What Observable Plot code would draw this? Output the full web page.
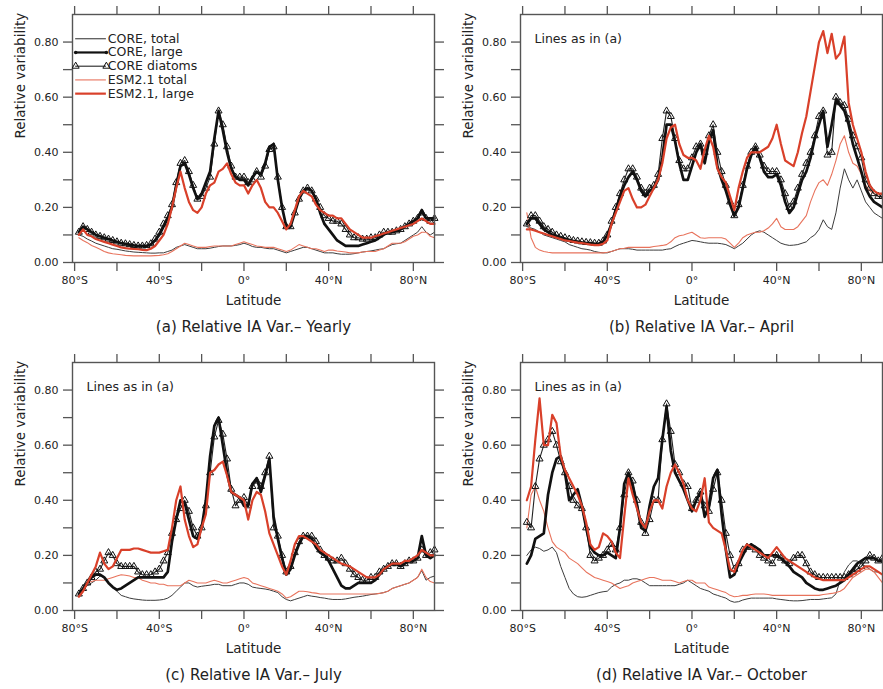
<!DOCTYPE html>
<html><head><meta charset="utf-8">
<script src="https://cdn.jsdelivr.net/npm/d3@7"></script>
<script src="https://cdn.jsdelivr.net/npm/@observablehq/plot@0.6"></script>
<style>
html,body{margin:0;padding:0;background:#fff;overflow:hidden}
#wrap{position:relative;width:883px;height:689px;background:#fff;overflow:hidden}
.panel{position:absolute;width:441px;height:340px}
.panel svg{max-width:none !important;width:441px;height:340px}
</style></head><body><div id="wrap"></div>
<script>
// Latitude grid (degrees, negative = south)
const lat = [
-78,-76,-74,-72,-70,-68,-66,-64,-62,-60,
-58,-56,-54,-52,-50,-48,-46,-44,-42,-40,
-38,-36,-34,-32,-30,-28,-26,-24,-22,-20,
-18,-16,-14,-12,-10,-8,-6,-4,-2,0,
2,4,6,8,10,12,14,16,18,20,
22,24,26,28,30,32,34,36,38,40,
42,44,46,48,50,52,54,56,58,60,
62,64,66,68,70,72,74,76,78,80,
82,84,86,88,90];

// ---- (a) Yearly ----
const aCoreTotal = [
0.10,0.095,0.085,0.078,0.07,0.065,0.06,0.055,0.05,0.048,
0.045,0.042,0.04,0.038,0.037,0.036,0.035,0.034,0.034,0.035,
0.035,0.04,0.045,0.055,0.06,0.065,0.06,0.055,0.05,0.05,
0.05,0.052,0.055,0.058,0.06,0.06,0.06,0.062,0.065,0.07,
0.065,0.058,0.055,0.055,0.052,0.05,0.05,0.045,0.04,0.035,
0.04,0.045,0.05,0.055,0.055,0.05,0.045,0.04,0.035,0.035,
0.035,0.032,0.03,0.03,0.03,0.032,0.035,0.038,0.04,0.042,
0.045,0.048,0.05,0.058,0.065,0.068,0.07,0.08,0.09,0.1,
0.11,0.13,0.11,0.1,0.11];
const aCoreLarge = [
0.11,0.13,0.12,0.11,0.10,0.095,0.09,0.085,0.08,0.075,
0.07,0.068,0.065,0.062,0.06,0.06,0.06,0.065,0.08,0.1,
0.13,0.16,0.2,0.28,0.35,0.36,0.32,0.27,0.23,0.25,
0.29,0.33,0.45,0.55,0.48,0.4,0.34,0.31,0.3,0.3,
0.28,0.31,0.33,0.32,0.36,0.42,0.43,0.3,0.2,0.13,
0.13,0.18,0.23,0.26,0.27,0.26,0.23,0.18,0.14,0.12,
0.1,0.08,0.07,0.06,0.06,0.06,0.06,0.065,0.07,0.075,
0.08,0.09,0.1,0.11,0.11,0.115,0.12,0.13,0.14,0.15,
0.16,0.19,0.16,0.16,0.16];
const aDiatoms = [
0.11,0.13,0.12,0.11,0.10,0.095,0.09,0.085,0.08,0.075,
0.07,0.068,0.065,0.062,0.06,0.06,0.062,0.068,0.085,0.11,
0.14,0.17,0.21,0.29,0.36,0.37,0.33,0.28,0.23,0.24,
0.27,0.31,0.43,0.55,0.5,0.42,0.35,0.31,0.31,0.31,
0.29,0.3,0.33,0.31,0.35,0.41,0.42,0.31,0.2,0.13,
0.13,0.18,0.23,0.26,0.27,0.26,0.23,0.2,0.17,0.16,
0.15,0.15,0.14,0.12,0.1,0.09,0.09,0.085,0.085,0.09,
0.09,0.1,0.11,0.11,0.11,0.115,0.12,0.13,0.14,0.15,
0.16,0.18,0.16,0.15,0.16];
const aEsmTotal = [
0.09,0.08,0.072,0.062,0.055,0.048,0.04,0.035,0.032,0.03,
0.028,0.026,0.025,0.024,0.024,0.024,0.024,0.024,0.025,0.026,
0.028,0.032,0.04,0.05,0.06,0.07,0.065,0.06,0.055,0.055,
0.055,0.058,0.06,0.06,0.06,0.06,0.06,0.065,0.07,0.075,
0.07,0.065,0.06,0.058,0.055,0.055,0.055,0.05,0.045,0.04,
0.045,0.055,0.065,0.06,0.055,0.05,0.05,0.045,0.04,0.045,
0.045,0.042,0.04,0.038,0.035,0.035,0.035,0.038,0.04,0.04,
0.04,0.045,0.05,0.06,0.07,0.07,0.07,0.075,0.085,0.095,
0.1,0.11,0.11,0.095,0.09];
const aEsmLarge = [
0.1,0.12,0.1,0.095,0.085,0.08,0.075,0.07,0.065,0.06,
0.055,0.052,0.05,0.049,0.048,0.046,0.045,0.05,0.06,0.08,
0.1,0.14,0.2,0.27,0.33,0.27,0.22,0.19,0.18,0.2,
0.25,0.28,0.29,0.33,0.34,0.36,0.32,0.29,0.28,0.28,
0.25,0.28,0.3,0.27,0.22,0.2,0.2,0.18,0.15,0.12,
0.14,0.19,0.24,0.26,0.25,0.24,0.21,0.19,0.18,0.17,
0.17,0.16,0.16,0.14,0.12,0.11,0.1,0.09,0.09,0.09,
0.095,0.1,0.105,0.11,0.115,0.12,0.125,0.13,0.135,0.14,
0.15,0.16,0.15,0.14,0.14];

// ---- (b) April ----
const bCoreTotal = [
0.13,0.125,0.12,0.11,0.1,0.095,0.09,0.085,0.08,0.075,
0.065,0.06,0.055,0.05,0.048,0.045,0.04,0.037,0.035,0.035,
0.04,0.045,0.05,0.05,0.05,0.048,0.045,0.045,0.045,0.045,
0.045,0.045,0.045,0.048,0.05,0.058,0.065,0.07,0.075,0.08,
0.078,0.075,0.072,0.07,0.07,0.07,0.068,0.065,0.058,0.05,
0.06,0.07,0.085,0.1,0.11,0.115,0.11,0.1,0.09,0.08,
0.07,0.065,0.062,0.063,0.065,0.07,0.075,0.09,0.1,0.12,
0.155,0.13,0.12,0.18,0.27,0.34,0.3,0.27,0.3,0.26,
0.22,0.2,0.18,0.17,0.16];
const bCoreLarge = [
0.14,0.16,0.16,0.14,0.12,0.11,0.1,0.095,0.09,0.085,
0.08,0.078,0.075,0.072,0.07,0.07,0.068,0.068,0.075,0.1,
0.14,0.19,0.24,0.28,0.31,0.33,0.3,0.26,0.24,0.26,
0.27,0.3,0.38,0.5,0.5,0.44,0.36,0.3,0.3,0.35,
0.4,0.43,0.36,0.44,0.48,0.35,0.3,0.26,0.21,0.17,
0.2,0.27,0.34,0.39,0.42,0.38,0.33,0.31,0.31,0.32,
0.28,0.22,0.18,0.2,0.25,0.3,0.33,0.38,0.45,0.5,
0.55,0.42,0.5,0.59,0.57,0.55,0.5,0.43,0.38,0.33,
0.27,0.24,0.22,0.21,0.2];
const bDiatoms = [
0.14,0.17,0.17,0.15,0.13,0.12,0.11,0.1,0.095,0.09,
0.085,0.08,0.078,0.075,0.073,0.072,0.07,0.07,0.078,0.1,
0.15,0.2,0.25,0.3,0.34,0.34,0.31,0.27,0.25,0.27,
0.28,0.32,0.45,0.55,0.53,0.45,0.37,0.34,0.34,0.38,
0.42,0.43,0.4,0.46,0.5,0.4,0.33,0.28,0.22,0.17,
0.21,0.28,0.35,0.4,0.42,0.39,0.35,0.33,0.33,0.33,
0.3,0.25,0.2,0.22,0.27,0.32,0.36,0.4,0.46,0.53,
0.55,0.39,0.4,0.6,0.58,0.57,0.52,0.46,0.42,0.38,
0.3,0.27,0.25,0.24,0.24];
const bEsmTotal = [
0.18,0.09,0.055,0.045,0.04,0.037,0.035,0.035,0.035,0.035,
0.035,0.035,0.035,0.035,0.035,0.035,0.035,0.035,0.035,0.037,
0.04,0.045,0.05,0.052,0.055,0.055,0.055,0.055,0.055,0.055,
0.058,0.06,0.062,0.065,0.075,0.09,0.097,0.1,0.105,0.11,
0.1,0.09,0.088,0.09,0.09,0.09,0.09,0.085,0.07,0.055,
0.07,0.09,0.1,0.105,0.11,0.11,0.115,0.125,0.14,0.16,
0.13,0.12,0.12,0.12,0.13,0.15,0.17,0.22,0.26,0.29,
0.3,0.28,0.32,0.37,0.43,0.46,0.4,0.36,0.35,0.32,
0.28,0.26,0.25,0.24,0.24];
const bEsmLarge = [
0.12,0.12,0.115,0.11,0.105,0.1,0.095,0.09,0.085,0.08,
0.078,0.075,0.072,0.07,0.068,0.065,0.063,0.063,0.068,0.08,
0.14,0.18,0.22,0.26,0.27,0.23,0.2,0.2,0.21,0.24,
0.27,0.3,0.36,0.45,0.49,0.5,0.43,0.39,0.38,0.38,
0.37,0.34,0.41,0.46,0.42,0.34,0.31,0.29,0.24,0.19,
0.27,0.33,0.38,0.4,0.4,0.4,0.41,0.42,0.45,0.5,
0.43,0.37,0.36,0.35,0.4,0.47,0.53,0.62,0.71,0.8,
0.84,0.76,0.83,0.74,0.76,0.82,0.58,0.5,0.45,0.4,
0.33,0.28,0.26,0.25,0.25];

// ---- (c) July ----
const cCoreTotal = [
0.06,0.075,0.09,0.1,0.11,0.125,0.12,0.1,0.085,0.07,
0.055,0.05,0.045,0.042,0.04,0.038,0.037,0.037,0.037,0.038,
0.04,0.045,0.055,0.07,0.085,0.1,0.1,0.09,0.085,0.088,
0.09,0.092,0.095,0.095,0.09,0.09,0.09,0.095,0.1,0.1,
0.095,0.085,0.082,0.08,0.078,0.075,0.07,0.065,0.05,0.04,
0.035,0.04,0.045,0.05,0.055,0.052,0.05,0.047,0.045,0.042,
0.04,0.04,0.04,0.042,0.045,0.048,0.05,0.052,0.055,0.058,
0.06,0.062,0.065,0.07,0.08,0.085,0.09,0.095,0.1,0.11,
0.12,0.145,0.11,0.12,0.125];
const cCoreLarge = [
0.06,0.08,0.1,0.12,0.13,0.13,0.12,0.1,0.085,0.075,
0.08,0.09,0.1,0.11,0.12,0.12,0.12,0.12,0.12,0.12,
0.12,0.14,0.25,0.33,0.4,0.39,0.33,0.27,0.26,0.3,
0.4,0.56,0.67,0.7,0.6,0.5,0.43,0.42,0.41,0.38,
0.38,0.46,0.48,0.43,0.49,0.55,0.34,0.26,0.19,0.13,
0.15,0.2,0.24,0.27,0.27,0.26,0.23,0.21,0.2,0.18,
0.15,0.12,0.09,0.08,0.08,0.09,0.1,0.1,0.1,0.1,
0.11,0.13,0.15,0.16,0.17,0.17,0.16,0.17,0.18,0.18,
0.19,0.27,0.2,0.19,0.2];
const cDiatoms = [
0.06,0.08,0.1,0.12,0.14,0.15,0.18,0.21,0.2,0.17,
0.16,0.16,0.16,0.16,0.14,0.13,0.13,0.13,0.14,0.15,
0.18,0.21,0.28,0.33,0.37,0.4,0.36,0.3,0.27,0.3,
0.38,0.5,0.63,0.69,0.64,0.55,0.44,0.38,0.4,0.41,
0.38,0.45,0.47,0.45,0.5,0.56,0.3,0.27,0.2,0.14,
0.16,0.21,0.25,0.27,0.27,0.27,0.25,0.22,0.2,0.19,
0.18,0.18,0.19,0.17,0.15,0.13,0.12,0.11,0.11,0.12,
0.12,0.14,0.15,0.16,0.17,0.17,0.16,0.17,0.18,0.18,
0.19,0.22,0.2,0.21,0.22];
const cEsmTotal = [
0.06,0.08,0.1,0.105,0.11,0.11,0.11,0.115,0.12,0.125,
0.13,0.128,0.125,0.12,0.12,0.11,0.105,0.1,0.1,0.095,
0.095,0.09,0.09,0.09,0.09,0.1,0.11,0.105,0.1,0.1,
0.1,0.105,0.11,0.105,0.1,0.1,0.105,0.11,0.115,0.12,
0.115,0.1,0.095,0.09,0.085,0.08,0.075,0.07,0.06,0.045,
0.05,0.06,0.07,0.07,0.068,0.065,0.063,0.06,0.06,0.06,
0.06,0.06,0.06,0.06,0.06,0.06,0.06,0.06,0.06,0.06,
0.06,0.062,0.065,0.07,0.08,0.085,0.09,0.095,0.1,0.11,
0.12,0.15,0.12,0.105,0.1];
const cEsmLarge = [
0.05,0.07,0.1,0.13,0.16,0.21,0.17,0.15,0.16,0.19,
0.22,0.22,0.22,0.225,0.225,0.22,0.215,0.21,0.21,0.21,
0.215,0.22,0.3,0.4,0.45,0.33,0.27,0.23,0.24,0.3,
0.35,0.5,0.51,0.53,0.54,0.49,0.43,0.42,0.41,0.4,
0.33,0.4,0.43,0.42,0.36,0.28,0.24,0.2,0.16,0.13,
0.18,0.24,0.27,0.27,0.26,0.25,0.24,0.22,0.21,0.2,
0.19,0.18,0.17,0.165,0.16,0.15,0.14,0.13,0.12,0.12,
0.12,0.13,0.15,0.16,0.17,0.17,0.17,0.18,0.18,0.19,
0.2,0.22,0.21,0.2,0.2];

// ---- (d) October ----
const dCoreTotal = [
0.2,0.22,0.23,0.225,0.215,0.22,0.23,0.21,0.16,0.12,
0.08,0.06,0.05,0.048,0.05,0.055,0.06,0.065,0.068,0.07,
0.085,0.095,0.1,0.11,0.11,0.115,0.115,0.11,0.1,0.09,
0.09,0.09,0.09,0.09,0.09,0.09,0.095,0.1,0.11,0.1,
0.09,0.08,0.075,0.07,0.06,0.055,0.05,0.045,0.035,0.03,
0.032,0.038,0.042,0.045,0.045,0.045,0.045,0.045,0.045,0.042,
0.04,0.038,0.036,0.035,0.035,0.036,0.038,0.04,0.04,0.04,
0.042,0.044,0.046,0.06,0.11,0.14,0.165,0.18,0.18,0.17,
0.16,0.15,0.14,0.14,0.13];
const dCoreLarge = [
0.17,0.2,0.26,0.27,0.28,0.42,0.5,0.55,0.56,0.5,
0.4,0.42,0.44,0.38,0.3,0.23,0.21,0.2,0.2,0.21,
0.2,0.19,0.3,0.46,0.5,0.45,0.38,0.3,0.29,0.38,
0.45,0.48,0.62,0.74,0.58,0.5,0.47,0.44,0.4,0.36,
0.4,0.43,0.34,0.38,0.48,0.51,0.35,0.22,0.12,0.13,
0.17,0.2,0.23,0.24,0.23,0.22,0.2,0.2,0.2,0.2,
0.19,0.175,0.16,0.14,0.13,0.12,0.1,0.09,0.08,0.075,
0.075,0.08,0.085,0.09,0.1,0.11,0.13,0.15,0.17,0.18,
0.19,0.19,0.19,0.18,0.18];
const dDiatoms = [
0.32,0.3,0.45,0.55,0.6,0.62,0.65,0.6,0.54,0.5,
0.45,0.4,0.38,0.37,0.3,0.2,0.18,0.19,0.2,0.22,
0.24,0.22,0.3,0.42,0.5,0.47,0.4,0.32,0.28,0.33,
0.4,0.4,0.62,0.75,0.65,0.53,0.5,0.46,0.45,0.37,
0.4,0.43,0.38,0.36,0.44,0.5,0.4,0.28,0.2,0.15,
0.17,0.22,0.23,0.23,0.22,0.2,0.19,0.18,0.17,0.2,
0.19,0.18,0.17,0.19,0.2,0.2,0.17,0.14,0.13,0.12,
0.12,0.12,0.12,0.12,0.12,0.12,0.13,0.14,0.15,0.16,
0.18,0.2,0.19,0.18,0.19];
const dEsmTotal = [
0.3,0.42,0.45,0.4,0.36,0.3,0.25,0.23,0.22,0.21,
0.19,0.18,0.17,0.155,0.14,0.13,0.12,0.115,0.11,0.105,
0.1,0.09,0.08,0.085,0.09,0.1,0.105,0.11,0.115,0.12,
0.12,0.115,0.11,0.11,0.11,0.105,0.1,0.105,0.11,0.11,
0.1,0.1,0.1,0.085,0.08,0.075,0.07,0.065,0.055,0.05,
0.052,0.055,0.055,0.058,0.06,0.06,0.06,0.058,0.055,0.055,
0.055,0.055,0.055,0.055,0.055,0.055,0.055,0.055,0.055,0.055,
0.058,0.06,0.062,0.065,0.07,0.08,0.1,0.12,0.13,0.14,
0.15,0.15,0.14,0.12,0.1];
const dEsmLarge = [
0.4,0.45,0.62,0.77,0.6,0.6,0.71,0.68,0.56,0.51,
0.48,0.45,0.42,0.38,0.32,0.24,0.22,0.23,0.28,0.27,
0.25,0.21,0.19,0.34,0.48,0.42,0.37,0.32,0.3,0.36,
0.4,0.4,0.37,0.45,0.5,0.53,0.5,0.46,0.4,0.37,
0.36,0.4,0.48,0.32,0.3,0.29,0.28,0.22,0.15,0.14,
0.18,0.22,0.24,0.23,0.22,0.21,0.2,0.19,0.21,0.23,
0.21,0.19,0.18,0.17,0.16,0.15,0.14,0.13,0.12,0.115,
0.11,0.11,0.11,0.11,0.11,0.11,0.12,0.13,0.14,0.15,
0.16,0.16,0.15,0.14,0.13];

// Axis ticks and labels
const xTicks = [-80,-60,-40,-20,0,20,40,60,80];
const xTickLabels = {"-80":"80°S","-40":"40°S","0":"0°","40":"40°N","80":"80°N"};
const yTicks = [0,0.1,0.2,0.3,0.4,0.5,0.6,0.7,0.8];
const yTickLabels = {"0":"0.00","0.2":"0.20","0.4":"0.40","0.6":"0.60","0.8":"0.80"};

const legendLabels = ["CORE, total","CORE, large","CORE diatoms","ESM2.1 total","ESM2.1, large"];
const captions = ["(a) Relative IA Var.\u2013 Yearly","(b) Relative IA Var.\u2013 April","(c) Relative IA Var.\u2013 July","(d) Relative IA Var.\u2013 October"];
const noteText = "Lines as in (a)";

const C = {
  coreTotal: {stroke:"#3c3c3c", w:1},
  coreLarge: {stroke:"#111", w:2.7},
  diatoms:   {stroke:"#222", w:1.1},
  esmTotal:  {stroke:"#e8735c", w:1.1},
  esmLarge:  {stroke:"#d9402a", w:2.2}
};
const FONT = "DejaVu Sans, Verdana, sans-serif";

function rows(arr){ return lat.map((l,i)=>({lat:l, v:arr[i]})); }

function panel(s, left, top, caption, showLegend){
  const marks = [
    Plot.line(rows(s[0]), {x:"lat", y:"v", stroke:C.coreTotal.stroke, strokeWidth:C.coreTotal.w}),
    Plot.line(rows(s[3]), {x:"lat", y:"v", stroke:C.esmTotal.stroke, strokeWidth:C.esmTotal.w}),
    Plot.line(rows(s[2]), {x:"lat", y:"v", stroke:C.diatoms.stroke, strokeWidth:C.diatoms.w}),
    Plot.dot(rows(s[2]), {x:"lat", y:"v", symbol:"triangle", r:2.6, stroke:"#111", strokeWidth:1, fill:"none"}),
    Plot.line(rows(s[1]), {x:"lat", y:"v", stroke:C.coreLarge.stroke, strokeWidth:C.coreLarge.w}),
    Plot.line(rows(s[4]), {x:"lat", y:"v", stroke:C.esmLarge.stroke, strokeWidth:C.esmLarge.w}),
    Plot.frame({stroke:"#555", strokeWidth:1.4}),
    Plot.axisX({anchor:"bottom", ticks:xTicks, tickSize:9, tickPadding:5, stroke:"#555", strokeWidth:1.3, fill:"#222", fontSize:11,
      tickFormat: d => xTickLabels[String(d)] || "", label:null}),
    Plot.axisX({anchor:"top", ticks:xTicks, tickSize:9, stroke:"#555", strokeWidth:1.3, tickFormat: () => "", label:null}),
    Plot.axisY({anchor:"left", ticks:yTicks, tickSize:9, tickPadding:5, stroke:"#555", strokeWidth:1.3, fill:"#222", fontSize:11,
      tickFormat: d => yTickLabels[String(+d.toFixed(1))] || "", label:null}),
    Plot.axisY({anchor:"right", ticks:yTicks, tickSize:9, stroke:"#555", strokeWidth:1.3, tickFormat: () => "", label:null}),
    Plot.text(["Latitude"], {text:d=>d, frameAnchor:"bottom", dy:38, lineAnchor:"middle", fontSize:13.5, fill:"#222"}),
    Plot.text(["Relative variability"], {text:d=>d, frameAnchor:"left", dx:-52, rotate:-90, lineAnchor:"middle", fontSize:13.5, fill:"#222"}),
    Plot.text([caption], {text:d=>d, frameAnchor:"bottom", dy:65, lineAnchor:"middle", fontSize:15, fill:"#222"})
  ];
  if (showLegend) {
    const keys = ["coreTotal","coreLarge","diatoms","esmTotal","esmLarge"];
    const ly = i => 0.812 - i*0.0498;
    const x1 = -79.5, x2 = -65;
    keys.forEach((k,i) => {
      marks.push(Plot.ruleY([ly(i)], {x1, x2, stroke:C[k].stroke, strokeWidth: k==="coreLarge"?2.2:(k==="esmLarge"?2.2:1.1)}));
    });
    marks.push(Plot.dot([{x:x1,y:ly(1)},{x:x2,y:ly(1)}], {x:"x", y:"y", r:1.8, fill:"#111"}));
    marks.push(Plot.dot([{x:x1,y:ly(2)},{x:x2,y:ly(2)}], {x:"x", y:"y", r:2.6, symbol:"triangle", stroke:"#111", strokeWidth:1, fill:"none"}));
    marks.push(Plot.text(legendLabels, {text:d=>d, x:-64.3, y:(d,i)=>ly(i), textAnchor:"start", lineAnchor:"middle", fontSize:12.5, fill:"#222"}));
  } else {
    marks.push(Plot.text([noteText], {text:d=>d, frameAnchor:"top-left", dx:14, dy:24, textAnchor:"start", lineAnchor:"middle", fontSize:12.5, fill:"#222"}));
  }
  const p = Plot.plot({
    width:441, height:340,
    marginLeft:72, marginRight:7, marginTop:14, marginBottom:78,
    x:{domain:[-81,90]}, y:{domain:[0,0.9]},
    style:{fontFamily:FONT, fontSize:"11px", background:"transparent", overflow:"visible", maxWidth:"none"},
    marks
  });
  const div = document.createElement("div");
  div.className = "panel";
  div.style.left = left + "px";
  div.style.top = top + "px";
  div.appendChild(p);
  document.getElementById("wrap").appendChild(div);
}

panel([aCoreTotal,aCoreLarge,aDiatoms,aEsmTotal,aEsmLarge], 0, 0, captions[0], true);
panel([bCoreTotal,bCoreLarge,bDiatoms,bEsmTotal,bEsmLarge], 448, 0, captions[1], false);
panel([cCoreTotal,cCoreLarge,cDiatoms,cEsmTotal,cEsmLarge], 0, 348, captions[2], false);
panel([dCoreTotal,dCoreLarge,dDiatoms,dEsmTotal,dEsmLarge], 448, 348, captions[3], false);
</script></body></html>
